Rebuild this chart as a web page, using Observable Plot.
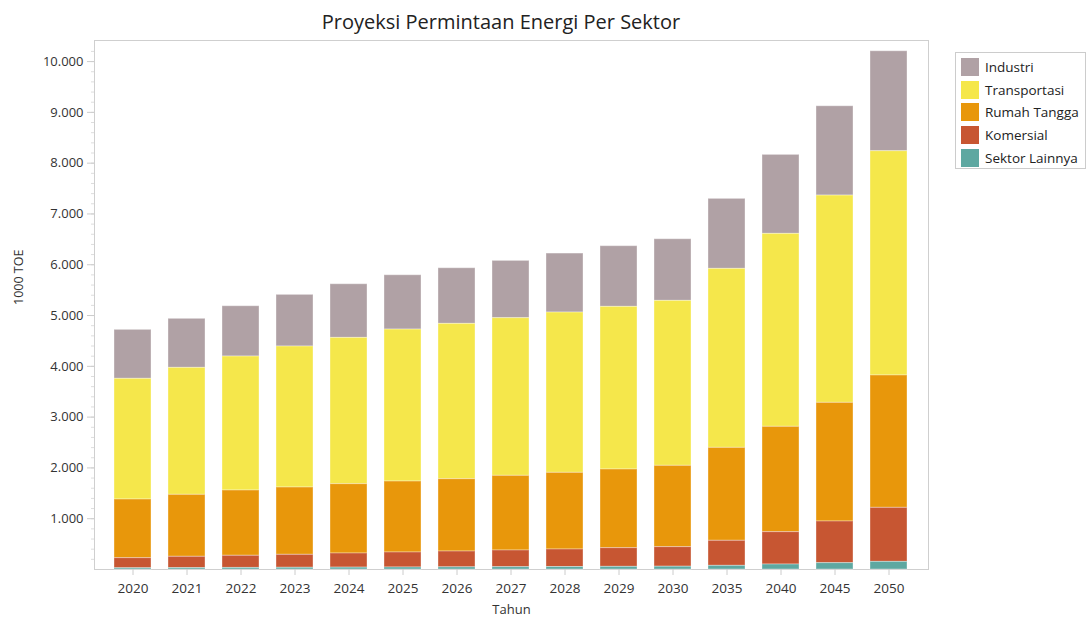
<!DOCTYPE html>
<html>
<head>
<meta charset="utf-8">
<script src="https://cdn.jsdelivr.net/npm/d3@7"></script>
<script src="https://cdn.jsdelivr.net/npm/@observablehq/plot@0.6"></script>
<style>
  body { margin: 0; background: #fff; font-family: "Open Sans", "Noto Sans", sans-serif; }
  #wrap { position: relative; width: 1088px; height: 617px; overflow: hidden; }
  #title { position: absolute; left: 0; width: 1002px; top: 8px; text-align: center; font-size: 20px; color: #222; }
  #legend { position: absolute; left: 955px; top: 52px; width: 131px; height: 117px; border: 1px solid #ccc; box-sizing: border-box; padding-top: 3px; }
  .row { display: flex; align-items: center; height: 22.6px; font-size: 13.5px; color: #222; }
  .sw { width: 18px; height: 18px; margin: 0 6px 0 5px; }
</style>
</head>
<body>
<div id="wrap">
  <div id="title">Proyeksi Permintaan Energi Per Sektor</div>
  <div id="chart"></div>
  <div id="legend"></div>
</div>
<script>
const years = ["2020","2021","2022","2023","2024","2025","2026","2027","2028","2029","2030","2035","2040","2045","2050"];
const sectors = ["Industri","Transportasi","Rumah Tangga","Komersial","Sektor Lainnya"];
const colors = ["#b0a1a5","#f5e74b","#e8970b","#c75632","#5ea8a1"];
const industri     = [964, 965, 990, 1017, 1056, 1069, 1095, 1128, 1161, 1194, 1213, 1378, 1555, 1758, 1968];
const transportasi = [2376, 2500, 2638, 2776, 2880, 2992, 3058, 3104, 3156, 3202, 3248, 3524, 3799, 4081, 4415];
const rumahTangga  = [1155, 1220, 1285, 1325, 1365, 1397, 1424, 1470, 1509, 1549, 1601, 1830, 2074, 2336, 2606];
const komersial    = [198, 222, 239, 255, 278, 295, 311, 328, 345, 368, 385, 493, 637, 820, 1064];
const lainnya      = [25, 28, 31, 34, 37, 40, 43, 46, 49, 52, 55, 72, 98, 125, 150];
const majorTicks = [1000,2000,3000,4000,5000,6000,7000,8000,9000,10000];
const minorTicks = d3.range(200, 10400, 200);

const seriesValues = [industri, transportasi, rumahTangga, komersial, lainnya];
const data = [];
sectors.forEach((s, i) => years.forEach((y, j) => data.push({year: y, sector: s, value: seriesValues[i][j]})));
const stackOrder = sectors.slice().reverse();

const fmt = d3.formatLocale({decimal: ",", thousands: ".", grouping: [3], currency: ["", ""]}).format(",");

const chart = Plot.plot({
  width: 1088,
  height: 617,
  marginTop: 40,
  marginLeft: 94,
  marginRight: 160,
  marginBottom: 48,
  style: {fontFamily: "'Open Sans', 'Noto Sans', sans-serif", fontSize: "13px", color: "#333", background: "#fff"},
  x: {domain: years, paddingInner: 0.31, paddingOuter: 0.335, label: null},
  y: {domain: [0, 10415], label: null},
  color: {domain: sectors, range: colors},
  marks: [
    Plot.frame({stroke: "#cfcfcf"}),
    Plot.barY(data, Plot.stackY({x: "year", y: "value", fill: "sector", order: stackOrder, stroke: "#ffffff", strokeOpacity: 0.35, strokeWidth: 1})),
    Plot.axisY({ticks: minorTicks, tickSize: 3, tickFormat: () => "", stroke: "#ddd", label: null}),
    Plot.axisY({ticks: majorTicks, tickSize: 7, tickFormat: fmt, stroke: "#ccc", fill: "#333", fontSize: 13, tickPadding: 4, label: null}),
    Plot.axisX({tickSize: 6, stroke: "#ccc", fill: "#333", fontSize: 13.5, tickPadding: 8, label: null}),
    Plot.text(["Tahun"], {frameAnchor: "bottom", dy: 44, fontSize: 13, fill: "#333"}),
    Plot.text(["1000 TOE"], {frameAnchor: "left", dx: -76, rotate: -90, fontSize: 12.5, fill: "#333"})
  ]
});
document.getElementById("chart").appendChild(chart);

const legend = document.getElementById("legend");
sectors.forEach((s, i) => {
  const row = document.createElement("div");
  row.className = "row";
  const sw = document.createElement("div");
  sw.className = "sw";
  sw.style.background = colors[i];
  const lab = document.createElement("span");
  lab.textContent = s;
  row.appendChild(sw);
  row.appendChild(lab);
  legend.appendChild(row);
});
</script>
</body>
</html>
